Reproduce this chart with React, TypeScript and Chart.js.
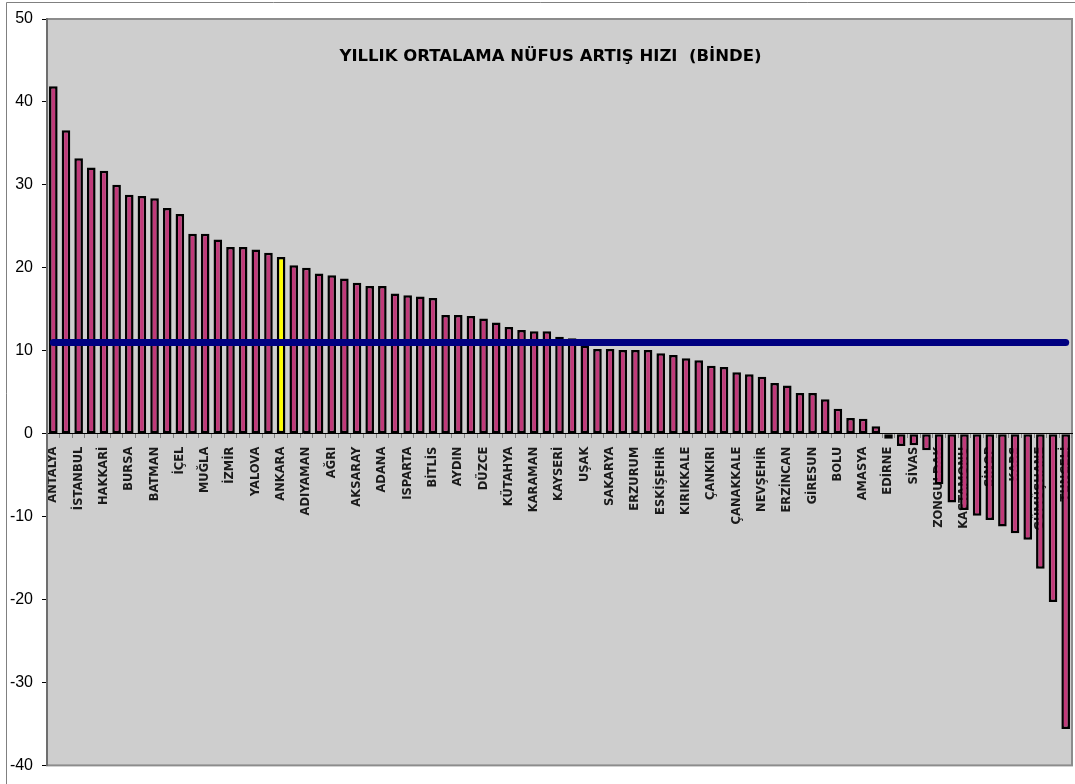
import React, { useEffect, useRef } from 'react';
import { Chart, registerables } from 'chart.js';

Chart.register(...registerables);

const chartTitle = 'YILLIK ORTALAMA NÜFUS ARTIŞ HIZI  (BİNDE)';

const provinces = [
  'ANTALYA', 'TEKİRDAĞ', 'İSTANBUL', 'KOCAELİ', 'HAKKARİ', 'ŞIRNAK', 'BURSA', 'GAZİANTEP', 'BATMAN', 'ŞANLIURFA',
  'İÇEL', 'DENİZLİ', 'MUĞLA', 'VAN', 'İZMİR', 'DİYARBAKIR', 'YALOVA', 'BİLECİK', 'ANKARA', 'MARDİN',
  'ADIYAMAN', 'SİİRT', 'AĞRI', 'KAHRAMANMARAŞ', 'AKSARAY', 'HATAY', 'ADANA', 'OSMANİYE', 'ISPARTA', 'BURDUR',
  'BİTLİS', 'MUŞ', 'AYDIN', 'KİLİS', 'DÜZCE', 'KONYA', 'KÜTAHYA', 'KIRKLARELİ', 'KARAMAN', 'BİNGÖL',
  'KAYSERİ', 'MANİSA', 'UŞAK', 'ELAZIĞ', 'SAKARYA', 'NİĞDE', 'ERZURUM', 'IĞDIR', 'ESKİŞEHİR', 'MALATYA',
  'KIRIKKALE', 'BALIKESİR', 'ÇANKIRI', 'AFYON', 'ÇANAKKALE', 'KARABÜK', 'NEVŞEHİR', 'TRABZON', 'ERZİNCAN', 'RİZE',
  'GİRESUN', 'BARTIN', 'BOLU', 'ORDU', 'AMASYA', 'KIRŞEHİR', 'EDİRNE', 'ARTVİN', 'SİVAS', 'SAMSUN',
  'ZONGULDAK', 'TOKAT', 'KASTAMONU', 'ÇORUM', 'SİNOP', 'YOZGAT', 'KARS', 'BAYBURT', 'GÜMÜŞHANE', 'ARDAHAN',
  'TUNCELİ',
];

const growthRates = [
  41.9, 36.6, 33.2, 32.1, 31.7, 30.0, 28.8, 28.65, 28.4, 27.2,
  26.5, 24.1, 24.1, 23.4, 22.5, 22.5, 22.2, 21.8, 21.3, 20.3,
  20.0, 19.3, 19.1, 18.7, 18.2, 17.8, 17.8, 16.9, 16.7, 16.55,
  16.35, 14.3, 14.3, 14.2, 13.9, 13.4, 12.85, 12.5, 12.35, 12.35,
  11.7, 11.5, 10.6, 10.2, 10.2, 10.1, 10.1, 10.1, 9.7, 9.5,
  9.1, 8.85, 8.2, 8.05, 7.4, 7.15, 6.85, 6.1, 5.8, 4.9,
  4.9, 4.15, 3.0, 1.9, 1.8, 0.9, -0.6, -1.5, -1.4, -2.0,
  -6.1, -8.3, -9.2, -9.9, -10.4, -11.2, -12.0, -12.8, -16.3, -20.3,
  -35.6,
];

const averageRate = 11;
const highlightedProvince = 'ANKARA';
const yMin = -40;
const yMax = 50;
const yStep = 10;

const barColor = '#C03A7A';
const highlightColor = '#FFFF00';

const backgroundPlugin = {
  id: 'plotBackground',
  beforeDraw(chart: any) {
    const { ctx, chartArea, width, height } = chart;
    ctx.save();
    ctx.fillStyle = '#FFFFFF';
    ctx.fillRect(0, 0, width, height);
    // outer frame
    ctx.strokeStyle = '#808080';
    ctx.lineWidth = 1;
    ctx.beginPath();
    ctx.moveTo(6.5, height);
    ctx.lineTo(6.5, 2.5);
    ctx.lineTo(width, 2.5);
    ctx.stroke();
    // plot area
    ctx.fillStyle = '#CECECE';
    ctx.fillRect(chartArea.left, chartArea.top, chartArea.right - chartArea.left, chartArea.bottom - chartArea.top);
    ctx.strokeStyle = '#8C8C8C';
    ctx.lineWidth = 2;
    ctx.strokeRect(chartArea.left, chartArea.top, chartArea.right - chartArea.left, chartArea.bottom - chartArea.top);
    ctx.restore();
  },
};

const titlePlugin = {
  id: 'innerTitle',
  beforeDatasetsDraw(chart: any) {
    const { ctx, chartArea } = chart;
    ctx.save();
    ctx.font = 'bold 16.5px "DejaVu Sans"';
    ctx.fillStyle = '#000000';
    ctx.textAlign = 'center';
    ctx.textBaseline = 'middle';
    ctx.fillText(chartTitle, (chartArea.left + chartArea.right) / 2 - 9, chartArea.top + 38);
    ctx.restore();
  },
};

export default function App() {
  const canvasRef = useRef<HTMLCanvasElement | null>(null);

  useEffect(() => {
    if (!canvasRef.current) return;
    const chart = new Chart(canvasRef.current, {
      type: 'bar',
      data: {
        labels: provinces,
        datasets: [
          {
            type: 'line',
            label: 'Türkiye',
            data: provinces.map(() => averageRate),
            borderColor: '#000080',
            borderWidth: 7,
            borderCapStyle: 'round',
            pointRadius: 0,
            fill: false,
            tension: 0,
            order: 0,
          } as any,
          {
            type: 'bar',
            label: 'Artış hızı',
            data: growthRates,
            backgroundColor: provinces.map((p) => (p === highlightedProvince ? highlightColor : barColor)),
            borderColor: '#000000',
            borderWidth: 2.5,
            borderSkipped: false,
            barPercentage: 0.68,
            categoryPercentage: 1,
            order: 1,
          } as any,
        ],
      },
      options: {
        animation: false,
        responsive: false,
        maintainAspectRatio: false,
        layout: { padding: { left: 0, top: 19, right: 3, bottom: 17 } },
        plugins: {
          legend: { display: false },
          tooltip: { enabled: false },
          title: { display: false },
        },
        scales: {
          x: {
            position: { y: 0 } as any,
            offset: true,
            afterFit: (scale: any) => {
              scale.paddingLeft = 0;
              scale.paddingRight = 0;
            },
            grid: {
              display: true,
              drawOnChartArea: false,
              drawTicks: true,
              tickLength: 4,
              color: '#808080',
              offset: true,
            },
            border: { display: true, color: '#000000', width: 1 },
            ticks: {
              autoSkip: false,
              maxRotation: 90,
              minRotation: 90,
              padding: 9,
              color: '#1A1A1A',
              font: { family: '"DejaVu Sans"', size: 11.5, weight: 'bold' },
              callback: (_v: any, i: number) => (i % 2 === 0 ? provinces[i] : ''),
            },
          },
          y: {
            min: yMin,
            max: yMax,
            afterFit: (scale: any) => {
              scale.width = 47;
            },
            grid: {
              display: true,
              drawOnChartArea: false,
              drawTicks: true,
              tickLength: 5,
              color: '#000000',
            },
            border: { display: true, color: '#6E6E6E', width: 2 },
            ticks: {
              stepSize: yStep,
              padding: 9,
              color: '#000000',
              font: { family: '"Liberation Sans"', size: 16 },
            },
          },
        },
      },
      plugins: [backgroundPlugin, titlePlugin],
    });
    return () => chart.destroy();
  }, []);

  return (
    <div style={{ position: 'fixed', left: 0, top: 0, width: 1075, height: 784, background: '#fff' }}>
      <canvas ref={canvasRef} width={1075} height={784} style={{ display: 'block' }} />
    </div>
  );
}
